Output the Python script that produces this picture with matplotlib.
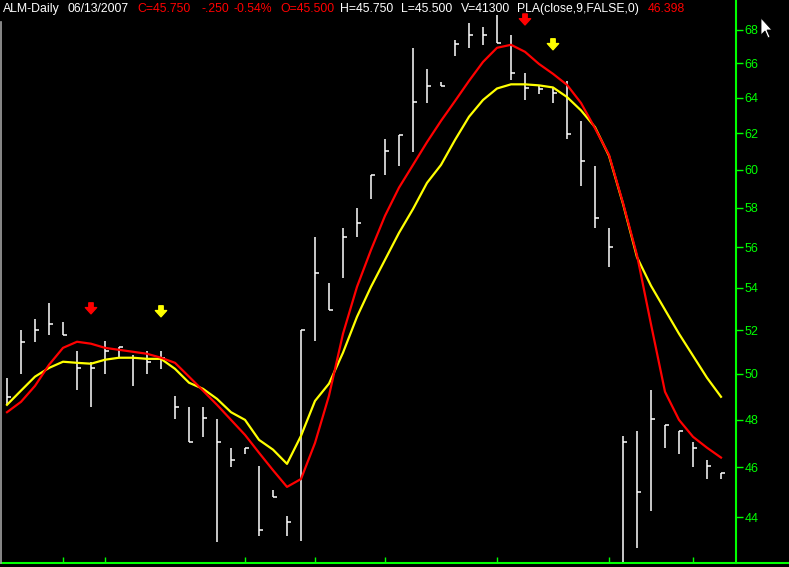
"""
ALM daily bars with PLA(close,9) and a smoother, black chart-terminal look

"""

import matplotlib
matplotlib.use("Agg")
import matplotlib.pyplot as plt
from matplotlib.ticker import FixedLocator, FixedFormatter, NullLocator
from matplotlib.patches import Polygon
from matplotlib.lines import Line2D

############################# Data #############################

# daily bars (high, low, close), oldest first
highs = [49.83, 52.00, 52.52, 53.29, 52.38, 51.05, 50.55, 51.50, 51.23, 50.87,
         51.05, 51.05, 49.04, 48.56, 48.56, 48.03, 46.81, 46.81, 46.05, 45.09,
         44.04, 52.00, 56.52, 54.25, 56.98, 58.00, 59.73, 61.68, 61.90, 66.92,
         65.67, 64.91, 67.40, 68.42, 68.18, 68.92, 67.70, 65.44, 64.65, 64.59,
         64.97, 62.69, 60.21, 56.98, 47.31, 47.52, 49.30, 47.77, 47.52, 47.06,
         46.31, 45.75]
lows = [48.64, 50.00, 51.46, 51.78, 51.78, 49.30, 48.56, 50.00, 50.73, 49.47,
        50.00, 50.23, 48.03, 47.06, 47.27, 43.03, 46.01, 46.56, 43.26, 44.80,
        43.26, 43.07, 51.50, 52.95, 54.49, 56.52, 58.47, 59.73, 60.21, 60.98,
        63.70, 64.65, 66.44, 66.92, 67.10, 67.22, 65.00, 63.87, 64.19, 63.70,
        61.68, 59.15, 56.98, 55.03, 42.00, 42.79, 44.24, 46.81, 46.56, 46.01,
        45.53, 45.50]
closes = [48.99, 51.46, 52.00, 52.29, 51.78, 50.27, 50.27, 51.05, 51.23, 50.73,
          50.55, 50.73, 48.56, 47.06, 48.07, 47.06, 46.31, 46.81, 43.49, 44.80,
          43.80, 52.00, 54.74, 52.95, 56.52, 57.23, 59.73, 61.03, 61.90, 63.76,
          64.65, 64.65, 67.13, 67.70, 67.70, 67.22, 65.41, 64.56, 64.48, 64.27,
          61.96, 60.48, 57.49, 56.01, 47.06, 44.99, 48.03, 47.77, 47.52, 46.81,
          46.05, 45.75]

# PLA(close,9,FALSE,0) - red line
pla = [48.32, 48.77, 49.47, 50.41, 51.18, 51.46, 51.37, 51.18, 51.09, 51.00,
       50.91, 50.73, 50.50, 49.88, 49.26, 48.64, 47.99, 47.35, 46.60, 45.88,
       45.20, 45.52, 47.01, 49.04, 51.83, 54.05, 55.86, 57.59, 59.06, 60.27,
       61.51, 62.69, 63.81, 64.97, 66.08, 66.92, 67.10, 66.68, 65.96, 65.38,
       64.74, 63.70, 62.28, 60.81, 58.26, 55.60, 52.27, 49.21, 47.99, 47.27,
       46.81, 46.40]

# second (yellow) line
smooth = [48.64, 49.26, 49.88, 50.27, 50.55, 50.50, 50.46, 50.64, 50.73, 50.73,
          50.68, 50.68, 50.23, 49.61, 49.34, 48.90, 48.32, 47.99, 47.14, 46.73,
          46.14, 47.31, 48.81, 49.57, 50.96, 52.62, 54.05, 55.37, 56.72, 57.94,
          59.31, 60.27, 61.63, 62.92, 63.87, 64.53, 64.77, 64.77, 64.71, 64.59,
          64.04, 63.28, 62.34, 60.76, 58.21, 55.50, 54.10, 52.95, 51.83, 50.82,
          49.83, 48.99]

# signal arrows: bar index, price at arrow tip
red_arrows = [(6, 52.76), (37, 68.30)]
yellow_arrows = [(11, 52.62), (39, 66.80)]

# bars that get a date tick on the bottom axis
date_ticks = [4, 7, 17, 22, 27, 35, 43, 49]

price_ticks = [44, 46, 48, 50, 52, 54, 56, 58, 60, 62, 64, 66, 68]

################################################################

W, H = 789, 567
GREEN = "#00ff00"
RED = "#ff0000"
YELLOW = "#ffff00"
BAR_PX = 14.0      # pixel spacing between bars
FIRST_PX = 7.0     # x pixel of the first bar
AXIS_PX = 736.0    # x pixel of the price axis
BOTTOM_PX = 563.0  # y pixel of the date axis

plt.rcParams["font.family"] = ["Liberation Sans", "DejaVu Sans"]

fig = plt.figure(figsize=(W / 100, H / 100), dpi=100, facecolor="black")
ax = fig.add_axes([0, (H - BOTTOM_PX) / H, 1, BOTTOM_PX / H])
ax.set_facecolor("black")

n = len(closes)
xs = list(range(n))

# HLC bars: vertical range and close tick to the right
tick = 4.0 / BAR_PX
for i in xs:
    ax.plot([i, i], [lows[i], highs[i]], color="white", lw=1.1, solid_capstyle="butt")
    ax.plot([i, i + tick], [closes[i], closes[i]], color="white", lw=1.1,
            solid_capstyle="butt")

ax.plot(xs, smooth, color=YELLOW, lw=1.6)
ax.plot(xs, pla, color=RED, lw=1.6)

for arrows, c in [(red_arrows, RED), (yellow_arrows, YELLOW)]:
    for i, p in arrows:
        ax.annotate("", xy=(i, p), xytext=(0, 11), textcoords="offset pixels",
                    arrowprops=dict(arrowstyle="simple,head_length=0.5,head_width=0.9,tail_width=0.35",
                                    color=c, mutation_scale=9, shrinkA=0, shrinkB=0))

# axes: log price scale, full width so the bottom line runs to the edge
ax.set_yscale("log")
ax.set_ylim(44 * 2.718281828 ** (-(BOTTOM_PX - 517) / 1119.0),
            44 * 2.718281828 ** (517 / 1119.0))
ax.set_xlim(-FIRST_PX / BAR_PX, (W - FIRST_PX) / BAR_PX)

for s in ["left", "top"]:
    ax.spines[s].set_visible(False)
ax.spines["right"].set_position(("axes", AXIS_PX / W))
ax.spines["right"].set_color(GREEN)
ax.spines["bottom"].set_color(GREEN)
ax.spines["right"].set_linewidth(1.5)
ax.spines["bottom"].set_linewidth(1.5)

ax.yaxis.tick_right()
ax.yaxis.set_major_locator(FixedLocator(price_ticks))
ax.yaxis.set_major_formatter(FixedFormatter([str(t) for t in price_ticks]))
ax.yaxis.set_minor_locator(NullLocator())
ax.tick_params(axis="y", which="major", direction="out", length=5, width=1,
               color=GREEN, labelcolor=GREEN, labelsize=9, pad=1)

ax.xaxis.set_major_locator(FixedLocator(date_ticks))
ax.xaxis.set_minor_locator(NullLocator())
ax.tick_params(axis="x", direction="in", length=4, width=1, color=GREEN,
               labelbottom=False)

######################### Header line ##########################

header = [(3, "ALM-Daily", "white"), (68, "06/13/2007", "white"),
          (137, "C=45.750", RED), (202, "-.250", RED), (233, "-0.54%", RED),
          (280, "O=45.500", RED), (340, "H=45.750", "white"),
          (401, "L=45.500", "white"), (461, "V=41300", "white"),
          (517, "PLA(close,9,FALSE,0)", "white"), (648, "46.398", RED)]
for x, s, c in header:
    fig.text(x / W, 1 - 9.0 / H, s, color=c, fontsize=8.8, va="center", ha="left")

# grey window edge on the left
fig.add_artist(Line2D([0.8 / W, 0.8 / W], [(H - BOTTOM_PX) / H, 1 - 22.0 / H],
                      color="#a0a0a0", lw=1.2, transform=fig.transFigure))

# mouse pointer left in the screenshot
cursor = [(761, 18), (761, 35), (765, 31), (768, 38), (770, 37), (767, 30), (772, 30)]
fig.add_artist(Polygon([(x / W, 1 - y / H) for x, y in cursor], closed=True,
                       facecolor="white", edgecolor="black", lw=0.6,
                       transform=fig.transFigure))

fig.savefig("out.png", dpi=100, facecolor="black")
